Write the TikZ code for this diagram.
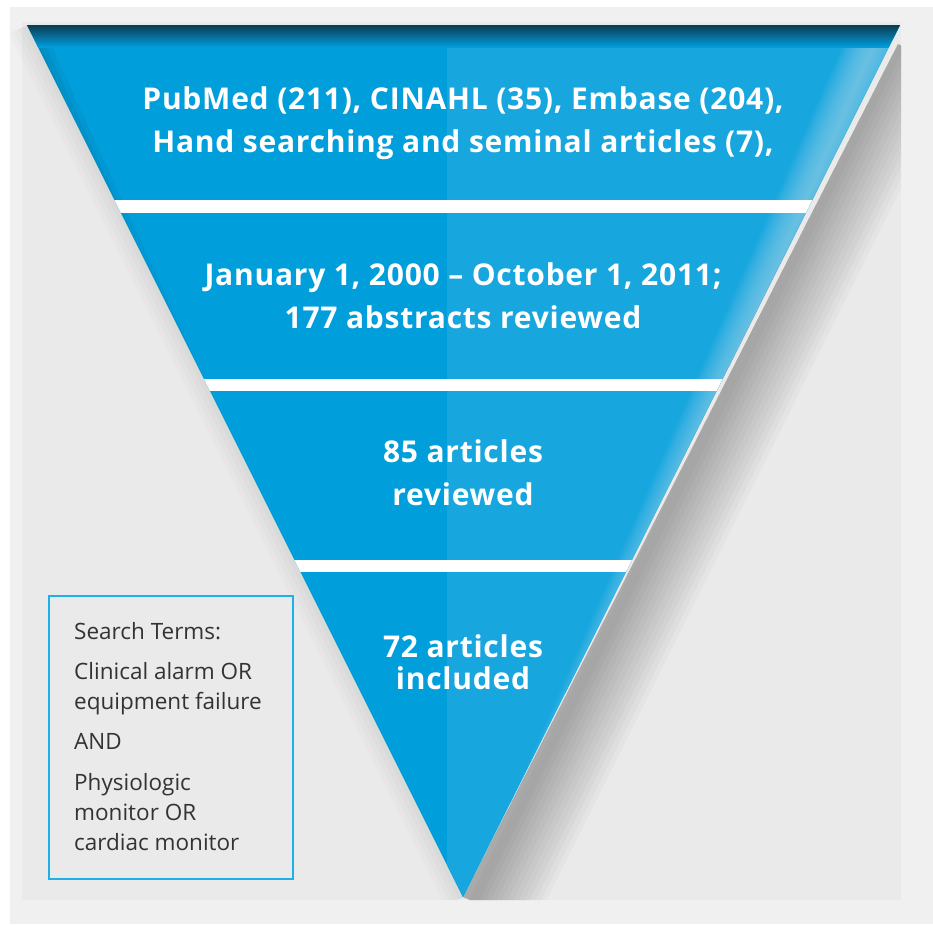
\documentclass[tikz,border=0pt]{standalone}
\usepackage{fontspec}
\newfontfamily\osans{Open Sans}
\newfontfamily\osansw{Open Sans}[LetterSpace=2.5]
\usetikzlibrary{calc}
\definecolor{bgout}{HTML}{F0F0F0}
\definecolor{bgin}{HTML}{EAEAEA}
\definecolor{funnelA}{HTML}{009EDB}
\definecolor{funnelB}{HTML}{17A6DE}
\definecolor{funnelTop}{HTML}{0B3B52}
\definecolor{funnelHi}{HTML}{9AD6F0}
\definecolor{boxline}{HTML}{1EB0E8}
\definecolor{boxtext}{HTML}{333333}
\tikzset{
  stagetext/.style={font=\osansw\bfseries\fontsize{30}{43}\selectfont, text=white, align=center, inner sep=0pt},
  termtext/.style={font=\osans\fontsize{22.5}{30}\selectfont, text=boxtext, align=left, inner sep=0pt, anchor=north west},
  termbox/.style={draw=boxline, line width=2pt, fill=none}
}
\begin{document}
\begin{tikzpicture}[x=1pt,y=-1pt]
\useasboundingbox (0,0) rectangle (933,924);
\fill[white] (0,0) rectangle (933,924);
\fill[bgout] (10,7) rectangle (933,924);
\fill[bgin] (22,22) rectangle (901,900);
% corners of funnel
\coordinate (A) at (27,25);
\coordinate (B) at (900,25);
\coordinate (C) at (463,897);
% soft shadow right of the funnel
\begin{scope}
  \clip ($(B)+(0,15)$) -- (901,40) -- (901,900) -- (470,900) -- (C) -- cycle;
  \foreach \w in {130,120,...,10}{
    \draw[black,opacity=0.022,line width=\w pt] ($(B)+(0,20)$) -- ($(C)+(0,25)$);
  }
\end{scope}
% faint shadow left of the funnel
\begin{scope}
  \clip (A) -- (0,25) -- (0,900) -- (463,900) -- (C) -- cycle;
  \foreach \w in {40,30,20,10}{
    \draw[black,opacity=0.015,line width=\w pt] (A) -- (C);
  }
\end{scope}
% funnel body
\fill[funnelA] (A) -- (B) -- (C) -- cycle;
\begin{scope}
  \clip (A) -- (B) -- (C) -- cycle;
  \fill[funnelB] (447,0) rectangle (933,924);
  \foreach \w in {56,52,...,4}{
    \draw[funnelHi,opacity=0.07,line width=\w pt] ($(B)+(0,-40)$) -- ($(C)+(20,40)$);
  }
  \foreach \w in {30,20,10}{
    \draw[black,opacity=0.04,line width=\w pt] ($(A)+(-20,-40)$) -- ($(C)+(-20,40)$);
  }
  \shade[top color=funnelTop, bottom color=funnelA] (0,25) rectangle (933,47);
  % white separators
  \fill[white] (0,200) rectangle (933,213);
  \fill[white] (0,379) rectangle (933,391);
  \fill[white] (0,560) rectangle (933,572);
\end{scope}
% stage texts
\node[stagetext] (s1) at (463,123) {PubMed (211), CINAHL (35), Embase (204),\\Hand searching and seminal articles (7),};
\node[stagetext] (s2) at (463,296) {January 1, 2000 – October 1, 2011;\\177 abstracts reviewed};
\node[stagetext] (s3) at (463,473) {85 articles\\reviewed};
\node[stagetext,font=\osansw\bfseries\fontsize{30}{32}\selectfont] (s4) at (463,662) {72 articles\\included};
% search terms box
\node[termbox, minimum width=244pt, minimum height=283pt, anchor=north west] (box) at (48,595) {};
\node[termtext] (terms) at (74,622) {Search Terms:\\[10pt]Clinical alarm OR\\equipment failure\\[10pt]AND\\[11pt]Physiologic\\monitor OR\\cardiac monitor};
\end{tikzpicture}
\end{document}
